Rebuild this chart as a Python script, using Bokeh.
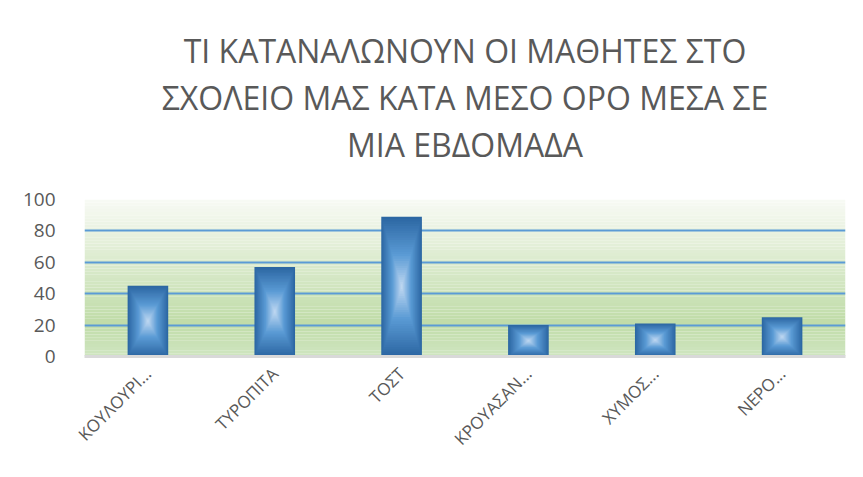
import math
from bokeh.plotting import figure
from bokeh.models import BoxAnnotation, Range1d, FactorRange, FixedTicker, Title
from bokeh.embed import file_html
from bokeh.resources import INLINE

categories = ["ΚΟΥΛΟΥΡΙ...", "ΤΥΡΟΠΙΤΑ", "ΤΟΣΤ", "ΚΡΟΥΑΣΑΝ...", "ΧΥΜΟΣ...", "ΝΕΡΟ..."]
values = [45, 57, 89, 20, 21, 25]
y_ticks = [0, 20, 40, 60, 80, 100]
title_lines = ["ΤΙ ΚΑΤΑΝΑΛΩΝΟΥΝ ΟΙ ΜΑΘΗΤΕΣ ΣΤΟ",
               "ΣΧΟΛΕΙΟ ΜΑΣ ΚΑΤΑ ΜΕΣΟ ΟΡΟ ΜΕΣΑ ΣΕ",
               "ΜΙΑ ΕΒΔΟΜΑΔΑ"]

FONT = "Open Sans"
TXT = "#595959"
W, H = 855, 469

p = figure(width=W, height=H, output_backend="svg", toolbar_location=None,
           x_range=FactorRange(*categories), y_range=Range1d(0, 100),
           min_border_left=84, min_border_right=10, min_border_top=199,
           min_border_bottom=113)
p.outline_line_color = None
p.background_fill_color = "white"
p.border_fill_color = "white"
p.title = None

# spacer between title block and plot area (added first = closest to the frame)
p.add_layout(Title(text="\u200b", standoff=30, text_font_size="1px",
                   text_color="white"), "above")
standoffs = [0, 4, 1]
for ln, so in zip(reversed(title_lines), reversed(standoffs)):
    p.add_layout(Title(text=ln, align="center", offset=8, text_font=FONT,
                       text_font_size="32px", text_color=TXT, text_font_style="normal",
                       standoff=so), "above")

def lerp(c1, c2, f):
    a = [int(c1[i:i+2], 16) for i in (1, 3, 5)]
    b = [int(c2[i:i+2], 16) for i in (1, 3, 5)]
    return "#%02x%02x%02x" % tuple(round(a[k] + (b[k] - a[k]) * f) for k in range(3))

# gradient plot-area background (decoration)
nb = 50
for i in range(nb):
    lo = 100 * i / nb
    hi = 100 * (i + 1) / nb
    mid = (lo + hi) / 2
    if mid > 22:
        col = lerp("#f8faf5", "#c0dca8", (100 - mid) / 78)
    else:
        col = lerp("#c0dca8", "#cfe5c0", (22 - mid) / 22)
    p.add_layout(BoxAnnotation(bottom=lo, top=hi, fill_color=col, fill_alpha=1,
                               line_color=None, level="image"))

# bars with approximate radial gradient
N = 30
bw = 0.32
for i in range(N):
    s = 1 - i / N
    f = i / (N - 1)
    if f < 0.55:
        col = lerp("#2c67a3", "#5b9bd5", f / 0.55)
    else:
        col = lerp("#5b9bd5", "#bcd6f0", (f - 0.55) / 0.45)
    bottoms = [v / 2 * (1 - s) for v in values]
    tops = [v / 2 * (1 + s) for v in values]
    p.vbar(x=categories, bottom=bottoms, top=tops, width=bw * s,
           fill_color=col, line_color=None)

p.ygrid.grid_line_color = "#5b9bd5"
p.ygrid.grid_line_width = 2
p.xgrid.grid_line_color = None
p.yaxis.ticker = FixedTicker(ticks=y_ticks)
p.yaxis.axis_line_color = None
p.yaxis.major_tick_line_color = None
p.yaxis.minor_tick_line_color = None
p.yaxis.major_label_text_font = FONT
p.yaxis.major_label_text_font_size = "19px"
p.yaxis.major_label_text_color = TXT
p.yaxis.major_label_standoff = 23

p.xaxis.axis_line_color = "#d9d9d9"
p.xaxis.axis_line_width = 3
p.xaxis.major_tick_line_color = None
p.xaxis.minor_tick_line_color = None
p.xaxis.major_label_orientation = math.pi / 4
p.xaxis.major_label_text_font = FONT
p.xaxis.major_label_text_font_size = "17px"
p.xaxis.major_label_text_color = TXT
p.xaxis.major_label_standoff = 8

open("out.html", "w").write(file_html(p, INLINE))
